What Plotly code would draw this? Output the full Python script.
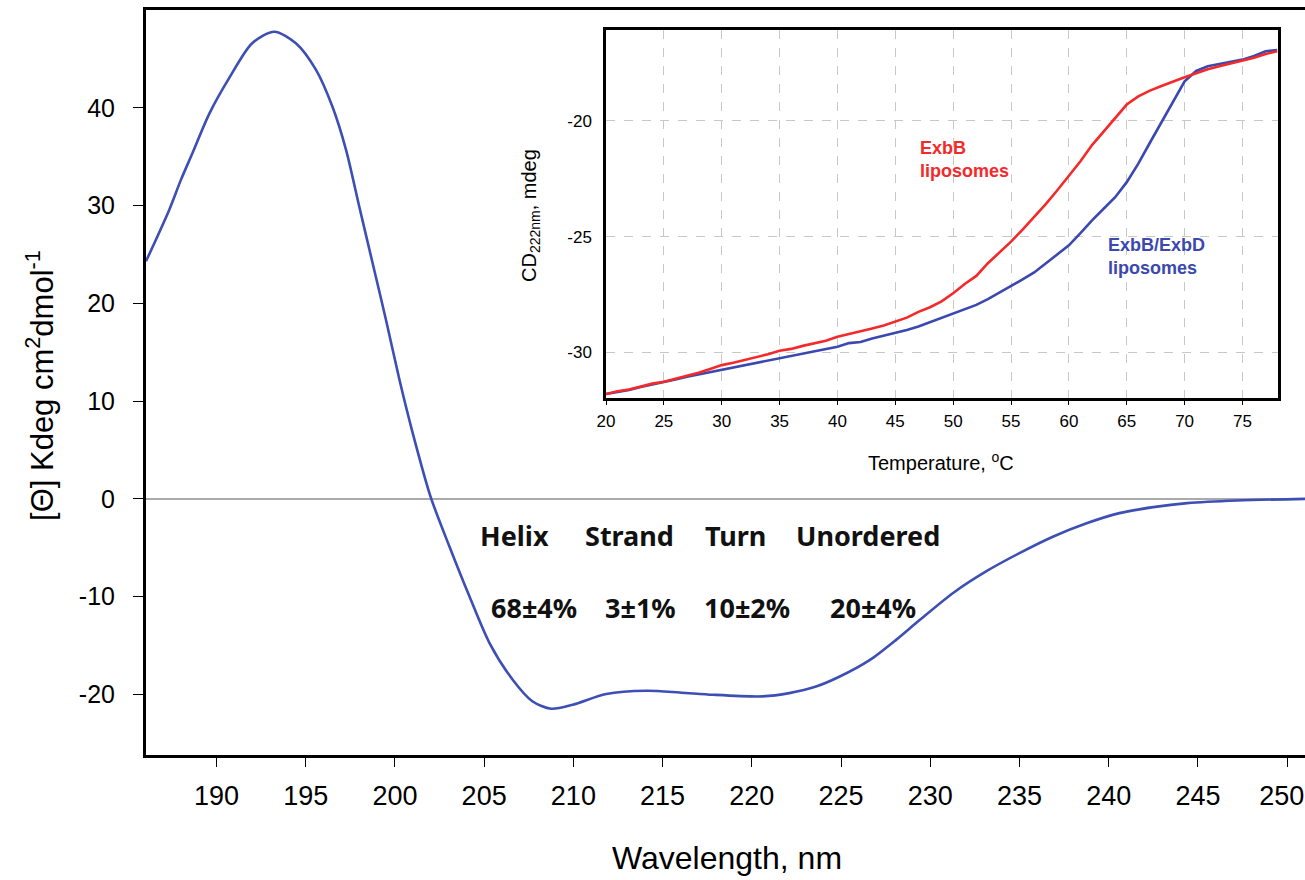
import plotly.graph_objects as go

# ---- main CD spectrum ----
wavelength = [186.05, 187.35, 188.0, 188.65, 189.6, 190.7, 192.0, 193.24, 194.45, 195.57,
              196.5, 197.26, 198.0, 198.75, 199.5, 200.25, 201.0, 202.0, 203.06, 204.18,
              205.3, 206.6, 207.7, 208.75, 209.97, 211.84, 214.08, 215.95, 217.82, 220.6,
              222.1, 223.6, 224.9, 226.6, 228.1, 229.4, 231.3, 233.15, 235.0, 236.9,
              238.76, 240.6, 242.5, 244.4, 247.2, 251.0]
theta = [24.3, 29.55, 32.6, 35.35, 39.4, 43.0, 46.6, 47.78, 46.6, 43.9,
         40.1, 35.7, 29.9, 24.1, 18.3, 12.2, 6.7, 0.2, -4.9, -10.0,
         -14.75, -18.5, -20.7, -21.47, -21.06, -19.97, -19.63, -19.8, -20.04, -20.2,
         -19.87, -19.2, -18.2, -16.5, -14.4, -12.4, -9.6, -7.4, -5.55, -3.85,
         -2.5, -1.46, -0.85, -0.44, -0.17, 0.0]

# ---- inset: thermal melts ----
temperature = list(range(20, 79))
exbb = [-31.8, -31.68, -31.6, -31.48, -31.35, -31.27, -31.15, -31.0, -30.88, -30.72,
        -30.55, -30.45, -30.33, -30.2, -30.08, -29.93, -29.85, -29.72, -29.6, -29.5,
        -29.33, -29.22, -29.1, -28.97, -28.84, -28.68, -28.5, -28.25, -28.05, -27.8,
        -27.45, -27.05, -26.7, -26.15, -25.7, -25.22, -24.7, -24.15, -23.6, -23.0,
        -22.4, -21.75, -21.05, -20.45, -19.85, -19.3, -18.95, -18.7, -18.5, -18.3,
        -18.12, -17.95, -17.78, -17.65, -17.52, -17.42, -17.28, -17.12, -17.0]
exbb_exbd = [-31.8, -31.72, -31.62, -31.5, -31.4, -31.3, -31.17, -31.05, -30.95, -30.86,
             -30.76, -30.66, -30.55, -30.45, -30.35, -30.26, -30.16, -30.05, -29.95, -29.88,
             -29.76, -29.6, -29.55, -29.4, -29.28, -29.18, -29.03, -28.88, -28.7, -28.52,
             -28.32, -28.15, -27.95, -27.7, -27.42, -27.15, -26.85, -26.55, -26.17, -25.8,
             -25.38, -24.85, -24.3, -23.8, -23.3, -22.65, -21.85, -20.95, -20.05, -19.15,
             -18.3, -17.85, -17.65, -17.55, -17.45, -17.36, -17.2, -17.0, -16.95]

main_xticks = list(range(190, 251, 5))
main_xticklabels = [str(v) for v in main_xticks[:-1]] + ["250\u2009\u2009"]
main_yticks = [-20, -10, 0, 10, 20, 30, 40]
main_yticklabels = ["-20", "-10", "0", "10", "20", "30", "40"]
inset_xticks = list(range(20, 76, 5))
inset_yticks = [-30, -25, -20]
inset_yticklabels = ["-30", "-25", "-20"]

structure_names = ["Helix", "Strand", "Turn", "Unordered"]
structure_values = ["68±4%", "3±1%", "10±2%", "20±4%"]
name_x = [206.7, 213.14, 219.08, 226.5]
value_x = [207.8, 213.76, 219.74, 226.77]

BLUE = "#3d4fb5"
RED = "#f42a2a"
NARROW = "Liberation Sans Narrow, Arial Narrow, Liberation Sans, Arial, sans-serif"
ARIAL = "Liberation Sans, Arial, sans-serif"
BOLDFONT = "Noto Sans, Open Sans, sans-serif"

fig = go.Figure()
fig.add_trace(go.Scatter(x=wavelength, y=theta, mode="lines",
                         line=dict(color=BLUE, width=2.6, shape="spline", smoothing=0.8),
                         xaxis="x", yaxis="y", showlegend=False, hoverinfo="skip"))
fig.add_trace(go.Scatter(x=temperature, y=exbb_exbd, mode="lines", line=dict(color="#3a48b0", width=2.6),
                         xaxis="x2", yaxis="y2", showlegend=False))
fig.add_trace(go.Scatter(x=temperature, y=exbb, mode="lines", line=dict(color=RED, width=2.6),
                         xaxis="x2", yaxis="y2", showlegend=False))

annotations = []
for nm, x in zip(structure_names, name_x):
    annotations.append(dict(x=x, y=-3.7, xref="x", yref="y", text=f"<b>{nm}</b>", showarrow=False,
                            xanchor="center", yanchor="middle",
                            font=dict(family=BOLDFONT, size=27, color="#111111")))
for v, x in zip(structure_values, value_x):
    annotations.append(dict(x=x, y=-11.15, xref="x", yref="y", text=f"<b>{v}</b>", showarrow=False,
                            xanchor="center", yanchor="middle",
                            font=dict(family=BOLDFONT, size=27, color="#111111")))
annotations.append(dict(x=46.97, y=-21.68, xref="x2", yref="y2", text="<b>ExbB<br>liposomes</b>", showarrow=False,
                        xanchor="left", yanchor="middle", align="left",
                        font=dict(family=ARIAL, size=18, color=RED)))
annotations.append(dict(x=63.2, y=-25.84, xref="x2", yref="y2", text="<b>ExbB/ExbD<br>liposomes</b>", showarrow=False,
                        xanchor="left", yanchor="middle", align="left",
                        font=dict(family=ARIAL, size=18, color="#3a48b0")))
# axis titles (placed as annotations for exact positioning)
annotations.append(dict(x=0.5013, y=-0.1383, xref="paper", yref="paper", text="Wavelength, nm", showarrow=False,
                        xanchor="center", yanchor="middle",
                        font=dict(family=ARIAL, size=32, color="black")))
annotations.append(dict(x=-0.0915, y=0.4966, xref="paper", yref="paper", textangle=-90,
                        text="[Θ] Kdeg cm<sup>2</sup>dmol<sup>-1</sup>", showarrow=False,
                        xanchor="center", yanchor="middle",
                        font=dict(family=ARIAL, size=31, color="black")))
annotations.append(dict(x=0.3313, y=0.7248, xref="paper", yref="paper", textangle=-90,
                        text="CD<sub>222nm</sub>, mdeg", showarrow=False,
                        xanchor="center", yanchor="middle",
                        font=dict(family=ARIAL, size=20, color="black")))
annotations.append(dict(x=0.686, y=0.3933, xref="paper", yref="paper",
                        text="Temperature, <sup>o</sup>C", showarrow=False,
                        xanchor="center", yanchor="middle",
                        font=dict(family=ARIAL, size=20, color="black")))

fig.update_layout(
    width=1305, height=880,
    margin=dict(l=146, r=0, t=10, b=125, autoexpand=False),
    paper_bgcolor="white", plot_bgcolor="white",
    xaxis=dict(domain=[0, 1], range=[186.05, 251.0], tickvals=main_xticks, ticktext=main_xticklabels,
               ticks="outside", ticklen=9,
               tickwidth=1, tickcolor="black", showline=True, linecolor="black", linewidth=3, mirror=True,
               showgrid=False, zeroline=False, ticklabelstandoff=6, automargin=False,
               ticklabeloverflow="allow",
               tickfont=dict(family=NARROW, size=27, color="black")),
    yaxis=dict(domain=[0, 1], range=[-26.2, 50], tickvals=main_yticks, ticktext=main_yticklabels,
               ticks="outside", ticklen=10, automargin=False,
               tickwidth=1, tickcolor="black", showline=True, linecolor="black", linewidth=3, mirror=False,
               showgrid=False, zeroline=True, zerolinecolor="#aaaaaa", zerolinewidth=1.5, ticklabelstandoff=13,
               tickfont=dict(family=ARIAL, size=25, color="black")),
    xaxis2=dict(domain=[0.3969, 0.977], anchor="y2", range=[20, 78.1], tickvals=inset_xticks, ticks="outside",
                ticklen=4, tickcolor="black", showline=True, linecolor="black", linewidth=2.5, mirror=True,
                showgrid=True, gridcolor="#c8c8c8", griddash="dash", gridwidth=1, zeroline=False,
                automargin=False, tickfont=dict(family=NARROW, size=17, color="black"), ticklabelstandoff=2),
    yaxis2=dict(domain=[0.4792, 0.9732], anchor="x2", range=[-31.97, -16.08], tickvals=inset_yticks,
                ticktext=inset_yticklabels, ticks="", automargin=False,
                showline=True, linecolor="black", linewidth=2.5, mirror=True,
                showgrid=True, gridcolor="#c8c8c8", griddash="dash", gridwidth=1, zeroline=False,
                tickfont=dict(family=NARROW, size=17, color="black"), ticklabelstandoff=8),
    annotations=annotations,
)

fig.write_html("out.html", config={"displayModeBar": False},
               post_script="document.body.style.margin='0px';document.documentElement.style.overflow='hidden';")
